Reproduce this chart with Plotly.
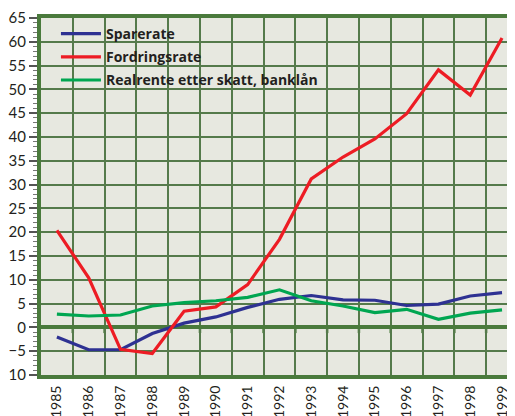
import plotly.graph_objects as go

years = [str(y) for y in range(1985, 2000)]

sparerate = [-2.0, -4.7, -4.7, -1.3, 0.9, 2.2, 4.2, 5.9, 6.7, 5.8, 5.7, 4.6, 4.9, 6.6, 7.3]
fordringsrate = [20.4, 10.4, -4.6, -5.5, 3.4, 4.3, 9.0, 18.5, 31.2, 35.8, 39.6, 44.9, 54.1, 48.8, 60.8]
realrente = [2.8, 2.4, 2.6, 4.5, 5.2, 5.6, 6.3, 7.9, 5.6, 4.5, 3.1, 3.8, 1.7, 3.0, 3.7]

names = ["Sparerate", "Fordringsrate", "Realrente etter skatt, banklån"]
colors = ["#2e3192", "#ed1c24", "#00a651"]

grid = "#557a4b"
axis_green = "#4a7a3c"

fig = go.Figure()
for i, (name, vals, col) in enumerate(zip(names, [sparerate, fordringsrate, realrente], colors)):
    fig.add_trace(go.Scatter(
        x=years, y=vals, mode="lines", name=name, legendgroup=str(i),
        line=dict(color=col, width=3.2),
    ))

# small marks hanging under the zero line at each gridline
for k in range(len(years)):
    fig.add_shape(type="line", xref="x", yref="y", x0=k + 0.5, x1=k + 0.5, y0=0, y1=-1.2,
                  line=dict(color=axis_green, width=2.5), layer="below")

# the page puts the figure 8px in from the top-left corner
fig.update_layout(
    width=515, height=416,
    margin=dict(l=33, r=0, t=10, b=49, autoexpand=False),
    paper_bgcolor="white",
    plot_bgcolor="#e7e8e0",
    font=dict(family="Lato, 'Open Sans', sans-serif", color="#231f20"),
    showlegend=True,
    legend=dict(
        x=0.031, y=1.0, xanchor="left", yanchor="top",
        bgcolor="rgba(0,0,0,0)",
        font=dict(family="'Open Sans', sans-serif", size=14, weight="bold", color="#231f20"),
        traceorder="grouped", tracegroupgap=2, itemwidth=40,
    ),
)

fig.update_xaxes(
    type="category", tickson="boundaries",
    range=[-0.5, 14.66],
    showgrid=True, gridcolor=grid, gridwidth=1.5,
    ticks="", tickangle=-90, tickfont=dict(size=14), ticklabelstandoff=1,
    showline=True, linecolor=axis_green, linewidth=4, mirror=True,
    automargin=False,
)
fig.update_yaxes(
    range=[-10, 65], dtick=5,
    showgrid=True, gridcolor=grid, gridwidth=1.5,
    zeroline=True, zerolinecolor=axis_green, zerolinewidth=3.5,
    ticks="outside", ticklen=8, tickwidth=1.5, tickcolor="#555555",
    minor=dict(dtick=1, ticks="outside", ticklen=4, tickwidth=1, tickcolor="#777777", showgrid=False),
    tickfont=dict(size=15),
    showline=True, linecolor=axis_green, linewidth=4,
    automargin=False,
)

fig.write_html("out.html")
